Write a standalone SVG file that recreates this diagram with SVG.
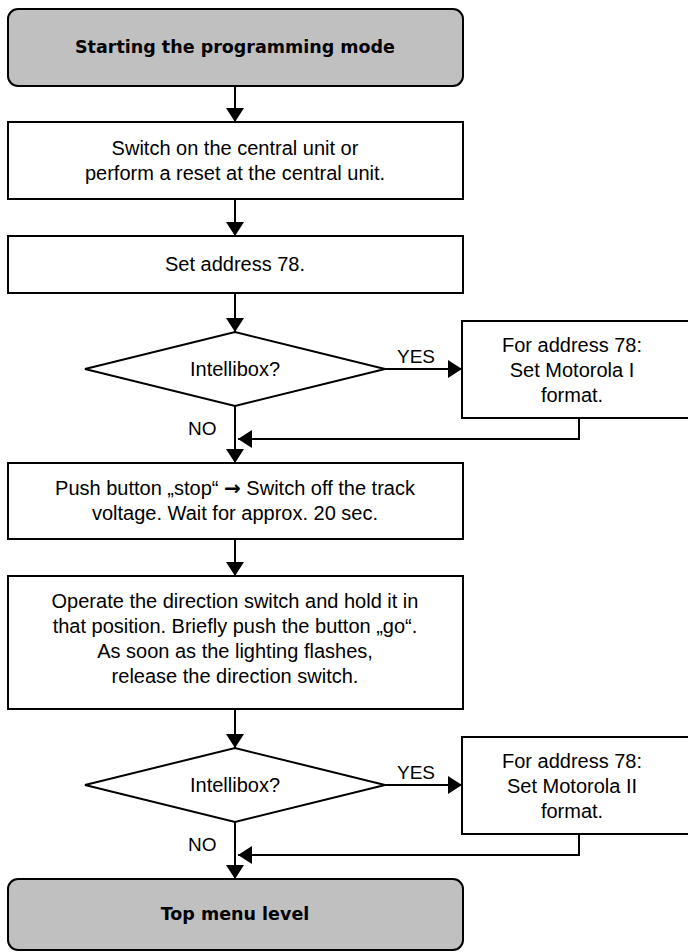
<svg xmlns="http://www.w3.org/2000/svg" width="688" height="952" viewBox="0 0 688 952">
<style>
.box{fill:#ffffff;stroke:#000000;stroke-width:2}
.term{fill:#c0c0c0;stroke:#000000;stroke-width:2}
.t{font-family:"Liberation Sans",Arial,sans-serif;font-size:20px;fill:#000000;text-anchor:middle}
.b{font-family:"DejaVu Sans",Verdana,sans-serif;font-size:17.5px;font-weight:bold;fill:#000000;text-anchor:middle}
.lbl{font-family:"Liberation Sans",Arial,sans-serif;font-size:19px;fill:#000000}
.arr{font-family:"DejaVu Sans",sans-serif;font-weight:bold}
.c{fill:none;stroke:#000000;stroke-width:2}
</style>
<defs>
<marker id="ah" markerUnits="userSpaceOnUse" markerWidth="14" markerHeight="18" refX="14" refY="9" orient="auto" viewBox="0 0 14 18">
<path d="M0,0 L14,9 L0,18 Z" fill="#000000"/>
</marker>
</defs>
<g id="connectors">
<line class="c" x1="235" y1="86" x2="235" y2="122" marker-end="url(#ah)"/>
<line class="c" x1="235" y1="199" x2="235" y2="236" marker-end="url(#ah)"/>
<line class="c" x1="235" y1="293" x2="235" y2="332" marker-end="url(#ah)"/>
<line class="c" x1="385" y1="369" x2="462" y2="369" marker-end="url(#ah)"/>
<line class="c" x1="235" y1="406" x2="235" y2="463" marker-end="url(#ah)"/>
<polyline class="c" points="579,418 579,439 238,439" marker-end="url(#ah)"/>
<line class="c" x1="235" y1="539" x2="235" y2="576" marker-end="url(#ah)"/>
<line class="c" x1="235" y1="709" x2="235" y2="748" marker-end="url(#ah)"/>
<line class="c" x1="385" y1="785" x2="462" y2="785" marker-end="url(#ah)"/>
<line class="c" x1="235" y1="822" x2="235" y2="879" marker-end="url(#ah)"/>
<polyline class="c" points="579,834 579,855 238,855" marker-end="url(#ah)"/>
<text class="lbl" x="397" y="363">YES</text>
<text class="lbl" x="188" y="435">NO</text>
<text class="lbl" x="397" y="779">YES</text>
<text class="lbl" x="188" y="851">NO</text>
</g>
<g id="start">
<rect class="term" x="8" y="9" width="455" height="77" rx="10"/>
<text class="b" x="235" y="53">Starting the programming mode</text>
</g>
<g id="switch-on">
<rect class="box" x="8" y="122" width="455" height="77"/>
<text class="t" x="235" y="155">Switch on the central unit or</text>
<text class="t" x="235" y="180">perform a reset at the central unit.</text>
</g>
<g id="set-address">
<rect class="box" x="8" y="236" width="455" height="57"/>
<text class="t" x="235" y="271">Set address 78.</text>
</g>
<g id="decision1">
<polygon class="box" points="85,369 235,332 385,369 235,406"/>
<text class="t" x="235" y="376">Intellibox?</text>
</g>
<g id="motorola1">
<rect class="box" x="462" y="321" width="240" height="97"/>
<text class="t" x="572" y="352">For address 78:</text>
<text class="t" x="572" y="377">Set Motorola I</text>
<text class="t" x="572" y="402">format.</text>
</g>
<g id="push-stop">
<rect class="box" x="8" y="463" width="455" height="76"/>
<text class="t" x="235" y="495">Push button „stop“ <tspan class="arr">→</tspan> Switch off the track</text>
<text class="t" x="235" y="520">voltage. Wait for approx. 20 sec.</text>
</g>
<g id="operate">
<rect class="box" x="8" y="576" width="455" height="133"/>
<text class="t" x="235" y="608">Operate the direction switch and hold it in</text>
<text class="t" x="235" y="633">that position. Briefly push the button „go“.</text>
<text class="t" x="235" y="658">As soon as the lighting flashes,</text>
<text class="t" x="235" y="683">release the direction switch.</text>
</g>
<g id="decision2">
<polygon class="box" points="85,785 235,748 385,785 235,822"/>
<text class="t" x="235" y="792">Intellibox?</text>
</g>
<g id="motorola2">
<rect class="box" x="462" y="737" width="240" height="97"/>
<text class="t" x="572" y="768">For address 78:</text>
<text class="t" x="572" y="793">Set Motorola II</text>
<text class="t" x="572" y="818">format.</text>
</g>
<g id="end">
<rect class="term" x="8" y="879" width="455" height="71" rx="10"/>
<text class="b" x="235" y="920">Top menu level</text>
</g>
</svg>
